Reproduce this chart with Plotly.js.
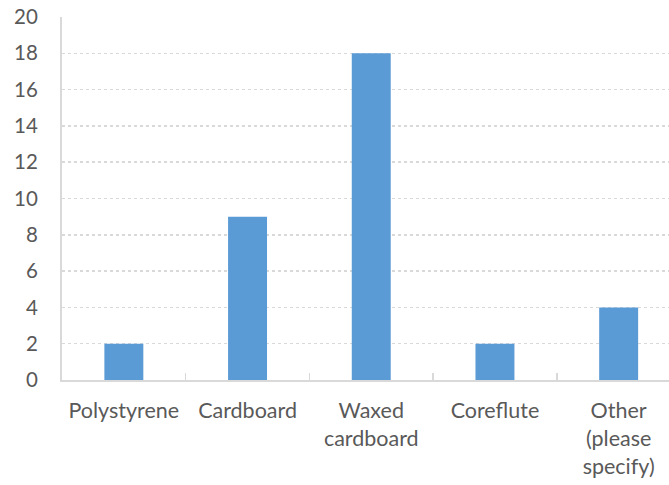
<!DOCTYPE html>
<html>
<head>
<meta charset="utf-8">
<script src="https://cdn.plot.ly/plotly-3.0.1.min.js"></script>
<style>html,body{margin:0;padding:0;background:#fff;}#chart{width:669px;height:485px;}</style>
</head>
<body>
<div id="chart"></div>
<script>
const categories = ["Polystyrene", "Cardboard", "Waxed<br>cardboard", "Coreflute", "Other<br>(please<br>specify)"];
const values = [2, 9, 18, 2, 4];
const yTicks = [0, 2, 4, 6, 8, 10, 12, 14, 16, 18, 20];

const trace = {
  type: "bar",
  x: categories,
  y: values,
  marker: {color: "#5B9BD5"},
  hoverinfo: "x+y"
};

const layout = {
  width: 669,
  height: 485,
  margin: {l: 62, r: 0, t: 17, b: 105},
  paper_bgcolor: "#ffffff",
  plot_bgcolor: "#ffffff",
  bargap: 0.685,
  showlegend: false,
  font: {family: "Lato, 'Open Sans', sans-serif", size: 20, color: "#595959"},
  xaxis: {
    type: "category",
    range: [-0.5, 4.407],
    showline: true,
    linecolor: "#d9d9d9",
    linewidth: 2,
    ticks: "inside",
    tickson: "boundaries",
    ticklen: 7,
    tickcolor: "#d9d9d9",
    tickwidth: 1.5,
    showgrid: false,
    zeroline: false,
    ticklabelstandoff: 10,
    tickfont: {family: "Lato, 'Open Sans', sans-serif", size: 21.5, color: "#595959"}
  },
  yaxis: {
    range: [0, 20],
    tickvals: yTicks,
    ticktext: yTicks.map(String),
    showline: true,
    linecolor: "#d9d9d9",
    linewidth: 2,
    ticks: "",
    showgrid: true,
    gridcolor: "#d9d9d9",
    gridwidth: 1.5,
    griddash: "dot",
    zeroline: false,
    ticklabelstandoff: 18,
    tickfont: {family: "Lato, 'Open Sans', sans-serif", size: 20.5, color: "#595959"}
  }
};

Plotly.newPlot("chart", [trace], layout, {displayModeBar: false, staticPlot: true});
</script>
</body>
</html>
